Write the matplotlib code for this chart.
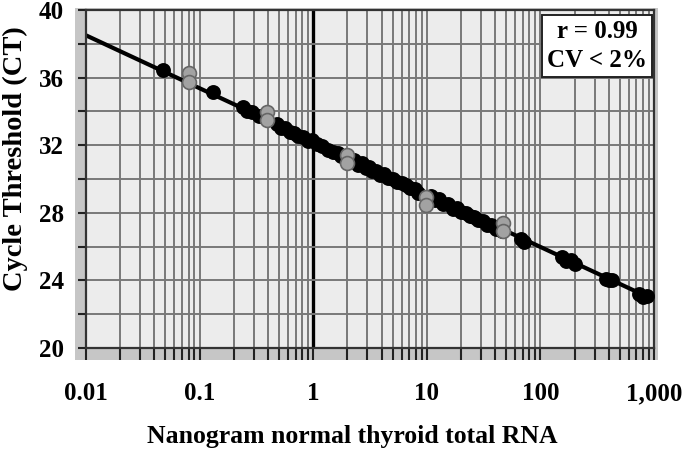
import matplotlib
matplotlib.use("Agg")
import matplotlib.pyplot as plt
from matplotlib.patches import Rectangle
import numpy as np

# ---- data ----
black_x = [0.048, 0.13, 0.24, 0.26, 0.29, 0.33,
           0.48, 0.52, 0.56, 0.62, 0.68, 0.74, 0.82, 0.9, 0.98, 1.08, 1.2, 1.35, 1.5, 1.65,
           1.75, 2.3, 2.5, 2.7, 2.9, 3.1, 3.3, 3.6, 3.9, 4.2, 4.6, 5.0, 5.5, 6.0, 6.5, 7.1, 7.8, 8.3,
           10.8, 11.8, 12.8, 14, 15.5, 17, 18.5, 20, 22, 24, 26, 28.5, 31, 34, 37, 41, 45,
           46, 68, 72, 155, 168, 185, 200, 380, 400, 430, 740, 800, 870]
black_y = [36.45, 35.15, 34.25, 34.05, 33.95, 33.75,
           33.25, 33.0, 33.0, 32.8, 32.75, 32.55, 32.5, 32.25, 32.3, 32.05, 31.95, 31.7, 31.6, 31.55,
           31.35, 31.15, 30.85, 30.95, 30.65, 30.7, 30.45, 30.5, 30.25, 30.3, 30.05, 30.0, 29.85, 29.75, 29.65, 29.45, 29.4, 29.2,
           29.0, 28.75, 28.8, 28.5, 28.5, 28.25, 28.3, 28.05, 28.0, 27.8, 27.75, 27.55, 27.5, 27.3, 27.3, 27.05, 27.1,
           26.9, 26.45, 26.3, 25.4, 25.15, 25.2, 24.95, 24.1, 24.0, 24.05, 23.2, 23.0, 23.05]
gray_x = [0.08, 0.08, 0.39, 0.39, 2.0, 2.0, 9.8, 9.8, 47, 47]
gray_y = [36.27, 35.75, 33.96, 33.5, 31.42, 30.95, 28.93, 28.46, 27.4, 26.95]
fit_x = [0.01, 1000]
fit_y = [38.5, 22.85]

xtick_vals = [0.01, 0.1, 1, 10, 100, 1000]
xtick_labels = ["0.01", "0.1", "1", "10", "100", "1,000"]
ytick_vals = [20, 24, 28, 32, 36, 40]
xlabel = "Nanogram normal thyroid total RNA"
ylabel = "Cycle Threshold (CT)"
stats_text = "r = 0.99\nCV < 2%"

plt.rcParams['font.family'] = ['Liberation Serif', 'DejaVu Serif']
plt.rcParams['font.weight'] = 'bold'

W, H = 685, 451
fig = plt.figure(figsize=(W / 100, H / 100), dpi=100)
fig.patch.set_facecolor('white')

# gray plot-area margin
fig.patches.append(Rectangle((75 / W, (H - 360) / H), (658 - 75) / W, (360 - 8) / H,
                             transform=fig.transFigure, facecolor='#c6c6c6',
                             edgecolor='none', zorder=-5))

ax = fig.add_axes([86 / W, (H - 348) / H, (654 - 86) / W, (348 - 10) / H], zorder=2)
ax.set_facecolor('#ececec')
ax.set_xscale('log')
ax.set_xlim(0.01, 1000)
ax.set_ylim(20, 40)

# grid
minor = [m * 10.0 ** e for e in range(-2, 3) for m in range(2, 10)]
for v in minor + [0.1, 10, 100]:
    ax.axvline(v, color='#787878', lw=1.4, zorder=1)
ax.axvline(1, color='black', lw=2.4, zorder=1)
for v in range(22, 40, 2):
    ax.axhline(v, color='#787878', lw=1.4, zorder=1)

# fit line and points
ax.plot(fit_x, fit_y, color='black', lw=3, zorder=2, solid_capstyle='butt')
ax.scatter(black_x, black_y, s=115, color='black', zorder=3, linewidths=0)
ax.scatter(gray_x, gray_y, s=100, facecolor='#a2a2a2', edgecolor='#666666',
           linewidths=1.2, zorder=4)

# ticks
ax.set_xticks(xtick_vals)
ax.set_xticklabels(xtick_labels)
ax.set_xticks(minor, minor=True)
ax.xaxis.set_minor_formatter(plt.NullFormatter())
ax.set_yticks(ytick_vals)
ax.set_yticks(range(22, 40, 4), minor=True)
ax.tick_params(axis='x', which='both', direction='out', length=8.5, width=1.5,
               color='#222222', labelsize=18, pad=16)
ax.tick_params(axis='y', which='both', direction='out', length=6, width=1.5,
               color='#222222', labelsize=18, pad=10)
for lab in ax.get_xticklabels() + ax.get_yticklabels():
    lab.set_fontweight('bold')

for s in ax.spines.values():
    s.set_color('#333333')
    s.set_linewidth(1.6)

fig.text(352 / W, 1 - 436 / H, xlabel, ha='center', va='center',
         fontsize=18.5, fontweight='bold')
fig.text(15 / W, 1 - 159 / H, ylabel, ha='center', va='center', rotation=90,
         fontsize=20.5, fontweight='bold')

# stats box
ax.text(0.9005, 0.8935, stats_text, transform=ax.transAxes, ha='center',
        va='center', fontsize=18, fontweight='bold', linespacing=1.32,
        zorder=6,
        bbox=dict(boxstyle='square,pad=0.2', facecolor='white',
                  edgecolor='#222222', linewidth=1.4))

fig.savefig('out.png', dpi=100)
